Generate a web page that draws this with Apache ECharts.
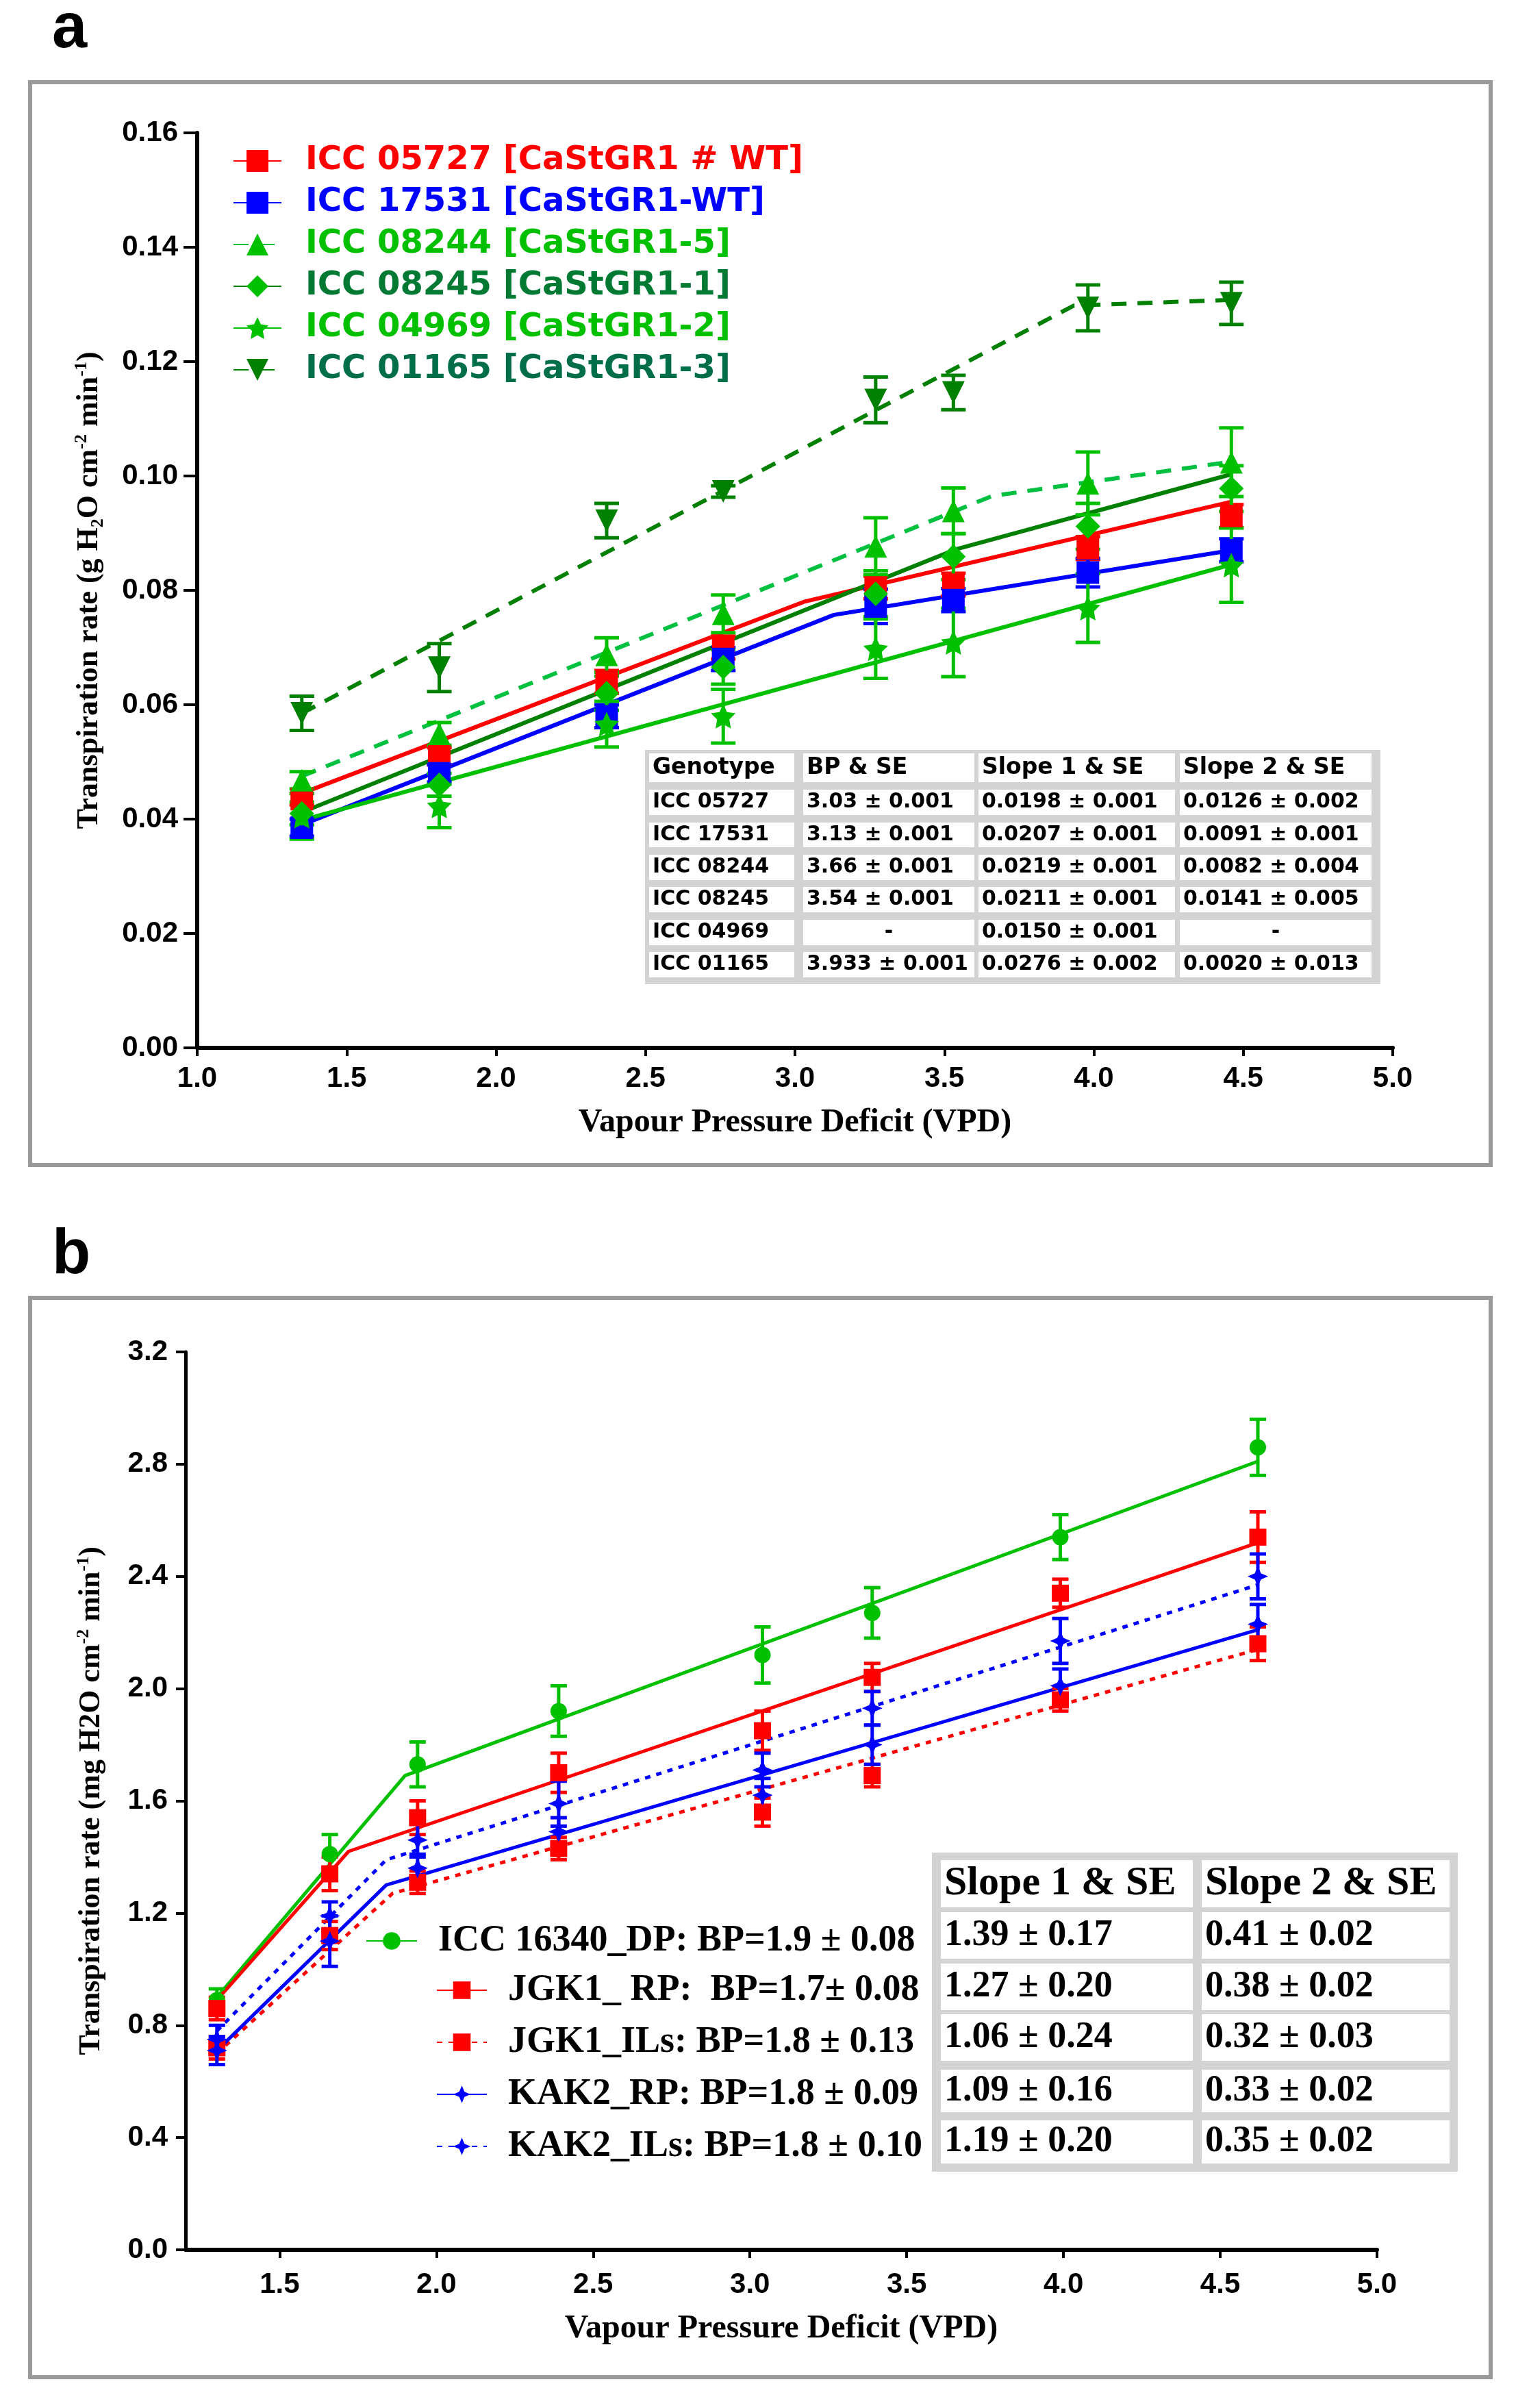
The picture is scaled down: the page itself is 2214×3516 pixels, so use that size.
<!DOCTYPE html>
<html><head><meta charset="utf-8">
<script src="https://cdn.jsdelivr.net/npm/echarts@6/dist/echarts.min.js"></script>
<style>html,body{margin:0;padding:0;background:#fff}#chart{width:2214px;height:3516px}</style>
</head><body><div id="chart"></div>
<script>
// ---------- Panel a data ----------
const vpdA = [1.35, 1.81, 2.37, 2.76, 3.27, 3.53, 3.98, 4.46];
const ticksAX = [1.0, 1.5, 2.0, 2.5, 3.0, 3.5, 4.0, 4.5, 5.0];
const namesA = ['ICC 05727 [CaStGR1 # WT]', 'ICC 17531 [CaStGR1-WT]', 'ICC 08244 [CaStGR1-5]',
                'ICC 08245 [CaStGR1-1]', 'ICC 04969 [CaStGR1-2]', 'ICC 01165 [CaStGR1-3]'];
const rateA05727 = [0.0435, 0.0510, 0.0640, 0.0700, 0.0805, 0.0810, 0.0874, 0.0930];
const seA05727   = [0.0010, 0.0015, 0.0020, 0.0020, 0.0020, 0.0020, 0.0020, 0.0020];
const fitA05727  = [[1.35, 0.0445], [3.03, 0.0780], [4.46, 0.0955]];
const rateA17531 = [0.0385, 0.0480, 0.0580, 0.0680, 0.0772, 0.0783, 0.0831, 0.0870];
const seA17531   = [0.0015, 0.0015, 0.0020, 0.0020, 0.0030, 0.0020, 0.0025, 0.0020];
const fitA17531  = [[1.35, 0.0390], [3.13, 0.0757], [4.46, 0.0870]];
const rateA08244 = [0.0468, 0.0549, 0.0687, 0.0759, 0.0877, 0.0939, 0.0987, 0.1024];
const seA08244   = [0.0015, 0.0020, 0.0030, 0.0033, 0.0050, 0.0040, 0.0055, 0.0060];
const fitA08244  = [[1.35, 0.0475], [3.66, 0.0965], [4.46, 0.1025]];
const rateA08245 = [0.0410, 0.0460, 0.0620, 0.0666, 0.0794, 0.0859, 0.0912, 0.0978];
const seA08245   = [0.0020, 0.0020, 0.0030, 0.0030, 0.0040, 0.0040, 0.0040, 0.0040];
const fitA08245  = [[1.35, 0.0412], [3.54, 0.0872], [4.46, 0.1003]];
const rateA04969 = [0.0405, 0.0423, 0.0566, 0.0580, 0.0698, 0.0709, 0.0769, 0.0844];
const seA04969   = [0.0040, 0.0038, 0.0040, 0.0047, 0.0052, 0.0060, 0.0060, 0.0065];
const fitA04969  = [[1.35, 0.0398], [4.46, 0.0845]];
const rateA01165 = [0.0585, 0.0665, 0.0922, 0.0973, 0.1133, 0.1146, 0.1294, 0.1302];
const seA01165   = [0.0030, 0.0042, 0.0030, 0.0010, 0.0040, 0.0030, 0.0040, 0.0037];
const fitA01165  = [[1.35, 0.0585], [3.933, 0.1298], [4.46, 0.1308]];
const tableAHeader = ['Genotype', 'BP & SE', 'Slope 1 & SE', 'Slope 2 & SE'];
const tableARows = [
  ['ICC 05727', '3.03 ± 0.001', '0.0198 ± 0.001', '0.0126 ± 0.002'],
  ['ICC 17531', '3.13 ± 0.001', '0.0207 ± 0.001', '0.0091 ± 0.001'],
  ['ICC 08244', '3.66 ± 0.001', '0.0219 ± 0.001', '0.0082 ± 0.004'],
  ['ICC 08245', '3.54 ± 0.001', '0.0211 ± 0.001', '0.0141 ± 0.005'],
  ['ICC 04969', '-', '0.0150 ± 0.001', '-'],
  ['ICC 01165', '3.933 ± 0.001', '0.0276 ± 0.002', '0.0020 ± 0.013']
];

// ---------- Panel b data ----------
const vpdB = [1.30, 1.66, 1.94, 2.39, 3.04, 3.39, 3.99, 4.62];
const ticksBX = [1.5, 2.0, 2.5, 3.0, 3.5, 4.0, 4.5, 5.0];
const namesB = ['ICC 16340_DP: BP=1.9 ± 0.08', 'JGK1_ RP:  BP=1.7± 0.08', 'JGK1_ILs: BP=1.8 ± 0.13',
                'KAK2_RP: BP=1.8 ± 0.09', 'KAK2_ILs: BP=1.8 ± 0.10'];
const rateB_DP  = [0.89, 1.41, 1.73, 1.92, 2.12, 2.27, 2.54, 2.86];
const seB_DP    = [0.04, 0.07, 0.08, 0.09, 0.10, 0.09, 0.08, 0.10];
const fitB_DP   = [[1.30, 0.90], [1.90, 1.69], [4.62, 2.81]];
const rateB_JRP = [0.86, 1.34, 1.54, 1.70, 1.85, 2.04, 2.34, 2.54];
const seB_JRP   = [0.04, 0.06, 0.06, 0.07, 0.07, 0.05, 0.05, 0.09];
const fitB_JRP  = [[1.30, 0.89], [1.72, 1.42], [4.62, 2.52]];
const rateB_JIL = [0.72, 1.12, 1.31, 1.43, 1.56, 1.69, 1.96, 2.16];
const seB_JIL   = [0.04, 0.05, 0.04, 0.04, 0.05, 0.04, 0.04, 0.06];
const fitB_JIL  = [[1.30, 0.70], [1.86, 1.27], [4.62, 2.14]];
const rateB_KRP = [0.71, 1.10, 1.36, 1.49, 1.62, 1.80, 2.01, 2.23];
const seB_KRP   = [0.05, 0.09, 0.05, 0.05, 0.06, 0.07, 0.06, 0.07];
const fitB_KRP  = [[1.30, 0.71], [1.84, 1.30], [4.62, 2.21]];
const rateB_KIL = [0.75, 1.19, 1.46, 1.59, 1.71, 1.93, 2.17, 2.40];
const seB_KIL   = [0.05, 0.05, 0.06, 0.08, 0.06, 0.06, 0.08, 0.08];
const fitB_KIL  = [[1.30, 0.78], [1.84, 1.39], [4.62, 2.37]];
const tableBHeader = ['Slope 1 & SE', 'Slope 2 & SE'];
const tableBRows = [
  ['1.39 ± 0.17', '0.41 ± 0.02'],
  ['1.27 ± 0.20', '0.38 ± 0.02'],
  ['1.06 ± 0.24', '0.32 ± 0.03'],
  ['1.09 ± 0.16', '0.33 ± 0.02'],
  ['1.19 ± 0.20', '0.35 ± 0.02']
];

// ---------- styling ----------
const RED = '#ff0000', BLUE = '#0000ff', LGREEN = '#00c000', DGREEN = '#008000';
const STAR5 = 'path://M0,-10L2.9,-4L9.5,-3.1L4.7,1.5L5.9,8.1L0,5L-5.9,8.1L-4.7,1.5L-9.5,-3.1L-2.9,-4Z';
const STAR4 = 'path://M0,-10L3,-3L10,0L3,3L0,10L-3,3L-10,0L-3,-3Z';
const INVTRI = 'path://M-10,-9L10,-9L0,9Z';
const SANS = 'Liberation Sans', SERIF = 'Liberation Serif';

function errRender(color, capHalf, width) {
  return function (params, api) {
    const x = api.value(0);
    const lo = api.coord([x, api.value(1)]);
    const hi = api.coord([x, api.value(2)]);
    const st = { stroke: color, lineWidth: width };
    return { type: 'group', children: [
      { type: 'line', shape: { x1: lo[0], y1: lo[1], x2: hi[0], y2: hi[1] }, style: st },
      { type: 'line', shape: { x1: lo[0] - capHalf, y1: lo[1], x2: lo[0] + capHalf, y2: lo[1] }, style: st },
      { type: 'line', shape: { x1: hi[0] - capHalf, y1: hi[1], x2: hi[0] + capHalf, y2: hi[1] }, style: st }
    ]};
  };
}

const series = [];
function addGeno(g) {
  series.push({
    type: 'line', name: g.name, xAxisIndex: g.axis, yAxisIndex: g.axis, data: g.fit,
    showSymbol: false, symbol: g.symbol, symbolSize: g.size,
    lineStyle: { color: g.lineColor, width: g.lw, type: g.dash || 'solid' },
    itemStyle: { color: g.markColor }, z: 2, silent: true
  });
  series.push({
    type: 'custom', name: g.name, xAxisIndex: g.axis, yAxisIndex: g.axis,
    data: g.x.map((v, i) => [v, g.mean[i] - g.se[i], g.mean[i] + g.se[i]]),
    encode: { x: 0, y: [1, 2] }, renderItem: errRender(g.markColor, g.cap, g.ebw), z: 3, silent: true
  });
  series.push({
    type: 'scatter', name: g.name, xAxisIndex: g.axis, yAxisIndex: g.axis,
    data: g.x.map((v, i) => [v, g.mean[i]]), symbol: g.symbol, symbolSize: g.size,
    itemStyle: { color: g.markColor, opacity: 1 }, z: 4, silent: true
  });
}
const aCommon = { axis: 0, x: vpdA, lw: 6, cap: 18, ebw: 5 };
addGeno(Object.assign({}, aCommon, { name: namesA[0], mean: rateA05727, se: seA05727, fit: fitA05727, lineColor: RED, markColor: RED, symbol: 'rect', size: 33 }));
addGeno(Object.assign({}, aCommon, { name: namesA[1], mean: rateA17531, se: seA17531, fit: fitA17531, lineColor: BLUE, markColor: BLUE, symbol: 'rect', size: 33 }));
addGeno(Object.assign({}, aCommon, { name: namesA[2], mean: rateA08244, se: seA08244, fit: fitA08244, lineColor: '#00c040', markColor: LGREEN, symbol: 'triangle', size: 33, dash: [22, 16] }));
addGeno(Object.assign({}, aCommon, { name: namesA[3], mean: rateA08245, se: seA08245, fit: fitA08245, lineColor: DGREEN, markColor: LGREEN, symbol: 'diamond', size: 36 }));
addGeno(Object.assign({}, aCommon, { name: namesA[4], mean: rateA04969, se: seA04969, fit: fitA04969, lineColor: LGREEN, markColor: LGREEN, symbol: STAR5, size: 36 }));
addGeno(Object.assign({}, aCommon, { name: namesA[5], mean: rateA01165, se: seA01165, fit: fitA01165, lineColor: DGREEN, markColor: DGREEN, symbol: INVTRI, size: 33, dash: [22, 16] }));

const bCommon = { axis: 1, x: vpdB, lw: 5, cap: 12, ebw: 5 };
addGeno(Object.assign({}, bCommon, { name: namesB[0], mean: rateB_DP, se: seB_DP, fit: fitB_DP, lineColor: LGREEN, markColor: LGREEN, symbol: 'circle', size: 24 }));
addGeno(Object.assign({}, bCommon, { name: namesB[1], mean: rateB_JRP, se: seB_JRP, fit: fitB_JRP, lineColor: RED, markColor: RED, symbol: 'rect', size: 25 }));
addGeno(Object.assign({}, bCommon, { name: namesB[2], mean: rateB_JIL, se: seB_JIL, fit: fitB_JIL, lineColor: RED, markColor: RED, symbol: 'rect', size: 25, dash: [8, 9] }));
addGeno(Object.assign({}, bCommon, { name: namesB[3], mean: rateB_KRP, se: seB_KRP, fit: fitB_KRP, lineColor: BLUE, markColor: BLUE, symbol: STAR4, size: 30 }));
addGeno(Object.assign({}, bCommon, { name: namesB[4], mean: rateB_KIL, se: seB_KIL, fit: fitB_KIL, lineColor: BLUE, markColor: BLUE, symbol: STAR4, size: 30, dash: [8, 9] }));

// ---------- tables (graphic) ----------
function buildTable(bg, colX, colW, rowY, rowH, header, rows, font, hSize, rSize, centerDash) {
  const els = [{ type: 'rect', shape: { x: bg[0], y: bg[1], width: bg[2], height: bg[3] }, style: { fill: '#d3d3d3' }, z: 50 }];
  const all = [header].concat(rows);
  all.forEach((row, r) => {
    row.forEach((txt, c) => {
      els.push({ type: 'rect', shape: { x: colX[c], y: rowY[r], width: colW[c], height: rowH[r] }, style: { fill: '#fff' }, z: 51 });
      const centered = centerDash && txt === '-';
      els.push({ type: 'text', z: 52,
        x: centered ? colX[c] + colW[c] / 2 : colX[c] + 5, y: rowY[r] + rowH[r] / 2,
        style: { text: txt, fill: '#000', font: 'bold ' + (r === 0 ? hSize : rSize) + 'px "' + font + '"',
                 textAlign: centered ? 'center' : 'left', textVerticalAlign: 'middle' } });
    });
  });
  return els;
}
const tableA = buildTable([942, 1095, 1074, 342], [948, 1173, 1429, 1723], [212, 250, 287, 280],
  [1100, 1153, 1201, 1248, 1295, 1343, 1390], [42, 37, 36, 37, 37, 37, 37],
  tableAHeader, tableARows, 'DejaVu Sans', 33, 30, true);
const tableB = buildTable([1361, 2705, 768, 466], [1374, 1755], [368, 362],
  [2716, 2792, 2867, 2941, 3022, 3096], [69, 68, 68, 68, 62, 63],
  tableBHeader, tableBRows, SERIF, 60, 54, false);

const frameStyle = { fill: 'none', stroke: '#9a9a9a', lineWidth: 6 };
const graphic = [
  { type: 'rect', shape: { x: 44, y: 120, width: 2133, height: 1581 }, style: frameStyle, z: 0 },
  { type: 'rect', shape: { x: 44, y: 1895, width: 2133, height: 1576 }, style: frameStyle, z: 0 },
  { type: 'text', x: 76, y: 90, style: { text: 'a', font: 'bold 92px "' + SANS + '"', fill: '#000', textVerticalAlign: 'bottom' } },
  { type: 'text', x: 76, y: 1880, style: { text: 'b', font: 'bold 92px "' + SANS + '"', fill: '#000', textVerticalAlign: 'bottom' } }
].concat(tableA, tableB);

const tickLabel = { fontFamily: SANS, fontWeight: 'bold', fontSize: 42, color: '#000' };
const titleStyle = { fontFamily: SERIF, fontWeight: 'bold', fontSize: 48, color: '#000' };
const yTitleRich = {
  fontFamily: SERIF, fontWeight: 'bold', fontSize: 44, color: '#000', lineHeight: 50,
  rich: {
    sup: { fontFamily: SERIF, fontWeight: 'bold', fontSize: 26, lineHeight: 26, verticalAlign: 'top', color: '#000' },
    sub: { fontFamily: SERIF, fontWeight: 'bold', fontSize: 26, lineHeight: 26, verticalAlign: 'bottom', color: '#000' }
  }
};

const option = {
  animation: false,
  backgroundColor: '#fff',
  grid: [
    { left: 288, top: 194, right: 180, bottom: 1986 },
    { left: 271, top: 1974, right: 203, bottom: 231 }
  ],
  xAxis: [
    { type: 'value', gridIndex: 0, min: 1, max: 5, interval: 0.5,
      name: 'Vapour Pressure Deficit (VPD)', nameLocation: 'middle', nameGap: 86, nameTextStyle: titleStyle,
      axisLine: { lineStyle: { color: '#000', width: 6 } },
      axisTick: { inside: false, length: 12, lineStyle: { color: '#000', width: 4 } },
      axisLabel: Object.assign({ margin: 24, formatter: v => v.toFixed(1) }, tickLabel),
      splitLine: { show: false } },
    { type: 'value', gridIndex: 1, min: 1.2, max: 5,
      name: 'Vapour Pressure Deficit (VPD)', nameLocation: 'middle', nameGap: 92, nameTextStyle: titleStyle,
      axisLine: { onZero: false, lineStyle: { color: '#000', width: 6 } },
      axisTick: { length: 12, lineStyle: { color: '#000', width: 4 }, customValues: ticksBX },
      axisLabel: Object.assign({ margin: 30, formatter: v => v.toFixed(1), customValues: ticksBX }, tickLabel),
      splitLine: { show: false } }
  ],
  yAxis: [
    { type: 'value', gridIndex: 0, min: 0, max: 0.16, interval: 0.02,
      name: 'Transpiration rate (g H{sub|2}O cm{sup|-2} min{sup|-1})', nameLocation: 'middle', nameGap: 132,
      nameTextStyle: yTitleRich,
      axisLine: { show: true, lineStyle: { color: '#000', width: 6 } },
      axisTick: { show: true, length: 20, lineStyle: { color: '#000', width: 4 } },
      axisLabel: Object.assign({ margin: 28, formatter: v => v.toFixed(2) }, tickLabel),
      splitLine: { show: false } },
    { type: 'value', gridIndex: 1, min: 0, max: 3.2, interval: 0.4,
      name: 'Transpiration rate (mg H2O cm{sup|-2} min{sup|-1})', nameLocation: 'middle', nameGap: 112,
      nameTextStyle: yTitleRich,
      axisLine: { show: true, onZero: false, lineStyle: { color: '#000', width: 5 } },
      axisTick: { show: true, length: 14, lineStyle: { color: '#000', width: 4 } },
      axisLabel: Object.assign({ margin: 26, formatter: v => v.toFixed(1) }, tickLabel),
      splitLine: { show: false } }
  ],
  legend: [
    { orient: 'vertical', left: 335, top: 205, itemWidth: 70, itemHeight: 40, itemGap: 11, selectedMode: false,
      textStyle: { fontFamily: 'DejaVu Sans', fontWeight: 'bold', fontSize: 48, lineHeight: 50, padding: [0, 0, 0, 30] },
      data: [
        { name: namesA[0], textStyle: { color: RED } },
        { name: namesA[1], textStyle: { color: BLUE } },
        { name: namesA[2], textStyle: { color: LGREEN } },
        { name: namesA[3], textStyle: { color: '#007a33' } },
        { name: namesA[4], textStyle: { color: LGREEN } },
        { name: namesA[5], textStyle: { color: '#006e48' } }
      ] },
    { orient: 'vertical', left: 529, top: 2801, itemWidth: 74, itemHeight: 32, selectedMode: false,
      textStyle: { fontFamily: SERIF, fontWeight: 'bold', fontSize: 54, lineHeight: 56, color: '#000', padding: [0, 0, 0, 26] },
      data: [namesB[0]] },
    { orient: 'vertical', left: 632, top: 2873, itemWidth: 73, itemHeight: 32, itemGap: 20, selectedMode: false,
      textStyle: { fontFamily: SERIF, fontWeight: 'bold', fontSize: 54, lineHeight: 56, color: '#000', padding: [0, 0, 0, 26] },
      data: namesB.slice(1) }
  ],
  graphic: graphic,
  series: series
};

const chart = echarts.init(document.getElementById('chart'), null, { renderer: 'canvas' });
chart.setOption(option);
</script>
</body></html>
